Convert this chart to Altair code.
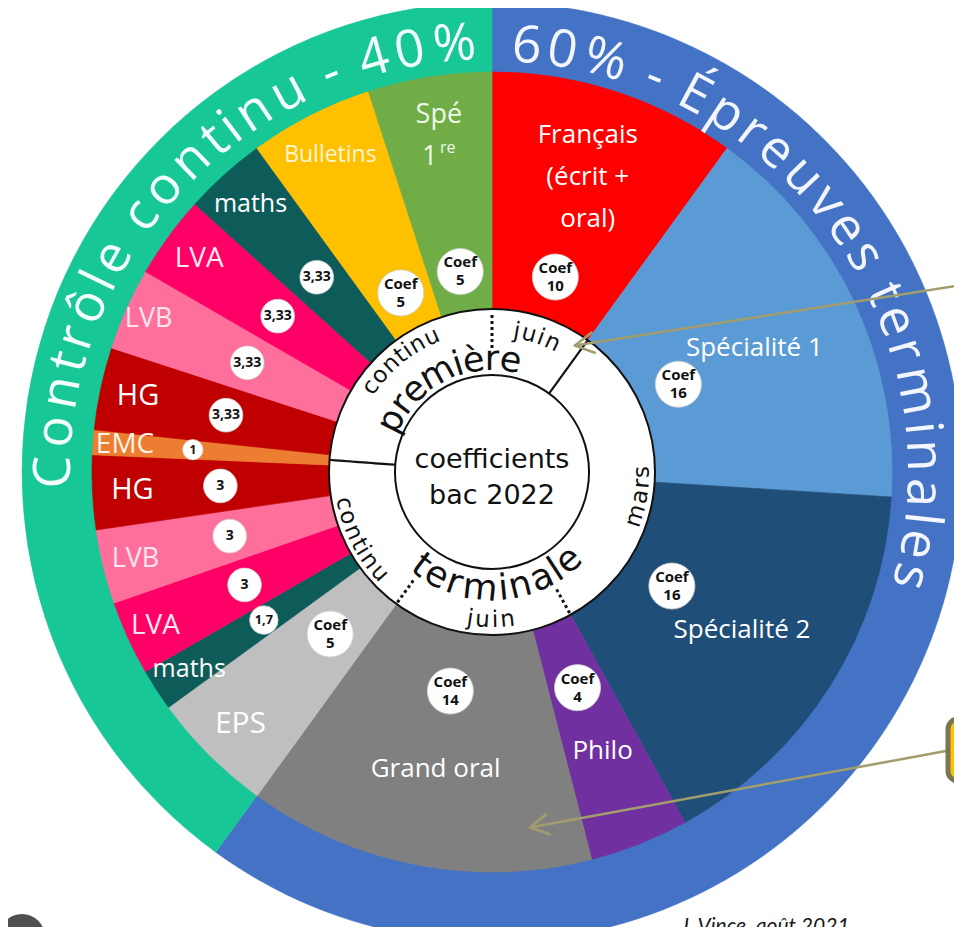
import numpy as np
import pandas as pd
import altair as alt

# ---------------- data ----------------
subjects = ["Français", "Spécialité 1", "Spécialité 2", "Philo", "Grand oral", "EPS",
            "maths", "LVA", "LVB", "HG", "EMC", "HG", "LVB", "LVA", "maths", "Bulletins", "Spé 1re"]
labels = ["Français\n(écrit +\noral)", "Spécialité 1", "Spécialité 2", "Philo", "Grand oral", "EPS",
          "maths", "LVA", "LVB", "HG", "EMC", "HG", "LVB", "LVA", "maths", "Bulletins", "Spé\n1^re"]
coefs = [10, 16, 16, 4, 14, 5, 1.7, 3, 3, 3, 1, 3.33, 3.33, 3.33, 3.33, 5, 5]
coef_labels = ["Coef\n10", "Coef\n16", "Coef\n16", "Coef\n4", "Coef\n14", "Coef\n5",
               "1,7", "3", "3", "3", "1", "3,33", "3,33", "3,33", "3,33", "Coef\n5", "Coef\n5"]
groups = ["terminales"] * 5 + ["continu"] * 12
group_names = ["60% - Épreuves terminales", "Contrôle continu - 40%"]
group_shares = [60, 40]
ring_words = ["continu", "première", "juin", "mars", "terminale", "juin", "continu"]
center_title = "coefficients\nbac 2022"
author = "J. Vince, août 2021"

# ---------------- styles ----------------
slice_colors = ["#FF0000", "#5B9BD5", "#1F4E79", "#7030A0", "#808080", "#BFBFBF",
                "#0E5C5A", "#FF0066", "#FF6F9C", "#C00000", "#ED7D31", "#C00000",
                "#FF6F9C", "#FF0066", "#0E5C5A", "#FFC000", "#70AD47"]
label_sizes = [26, 26, 26, 26, 26, 30, 25, 28, 27, 29, 28, 29, 27, 28, 25, 23, 27]
label_fills = ["#FFFFFF", "#FFFFFF", "#FFFFFF", "#FFFFFF", "#FFFFFF", "#FFFFFF",
               "#FFFFFF", "#FFE6EF", "#FFE6EF", "#FFFFFF", "#FFF2E6", "#FFFFFF",
               "#FFE6EF", "#FFE6EF", "#FFFFFF", "#FFF6D8", "#EEF8E8"]
group_colors = ["#4472C4", "#17C796"]
OLIVE = "#A29D6C"

# ---------------- layout ----------------
W, H = 946, 919
CX, CY = 484, 464
R_OUT, R_SLICE, R_WHITE, R_INNER = 470, 400, 163, 97
# radial distance of each slice's name and of its coefficient badge
label_radii = [310, 290, 296, 300, 302, 356, 361, 370, 367, 360, 368, 362, 376, 362, 361, 356, 340]
coef_radii = [205, 206, 213, 232, 223, 229, 272, 272, 270, 272, 300, 272, 268, 265, 262, 201, 203]

coef_arr = np.array(coefs, dtype=float)
span = coef_arr / coef_arr.sum() * 360.0
a_end = np.cumsum(span)
a_start = a_end - span
a_mid = (a_start + a_end) / 2
big = coef_arr >= 4

slices = pd.DataFrame({
    "subject": subjects, "coef": coefs, "color": slice_colors,
    "t0": np.deg2rad(a_start), "t1": np.deg2rad(a_end), "tm": np.deg2rad(a_mid),
    "r0": 0.0, "r1": float(R_SLICE),
})
coef_d = np.where(big, 52, np.minimum(38, 10 + 13 * coef_arr))
coef_fs = np.where(big, 15, np.clip(11 + coef_arr, 12, 14))

circles = pd.DataFrame({"subject": subjects, "tm": np.deg2rad(a_mid), "r": coef_radii,
                        "area": np.pi * (coef_d / 2) ** 2})

def line_rows(texts, mids, radii, sizes, fills, lh):
    rows = []
    for txt, t, rr, s, f in zip(texts, mids, radii, sizes, fills):
        lines = txt.split("\n")
        n = len(lines)
        for i, ln in enumerate(lines):
            oy = (i - (n - 1) / 2) * lh
            if "^" in ln:
                base, sup = ln.split("^")
                rows.append(dict(txt=base, tm=t, r=rr, ox=-9.0, oy=oy, size=s, fill=f))
                rows.append(dict(txt=sup, tm=t, r=rr, ox=9.0, oy=oy - 9, size=s * 0.6, fill=f))
            else:
                rows.append(dict(txt=ln, tm=t, r=rr, ox=0.0, oy=oy, size=s, fill=f))
    return pd.DataFrame(rows)

label_lines = line_rows(labels, np.deg2rad(a_mid), label_radii, label_sizes, label_fills, 42)
coef_lines = line_rows(coef_labels, np.deg2rad(a_mid), coef_radii, coef_fs, ["#111111"] * len(coefs), 18)

g_span = np.array(group_shares, dtype=float) / sum(group_shares) * 360.0
g_end = np.cumsum(g_span)
g_start = g_end - g_span
ring = pd.DataFrame({"t0": np.deg2rad(g_start), "t1": np.deg2rad(g_end),
                     "r0": float(R_SLICE - 2), "r1": float(R_OUT), "color": group_colors})

disk_white = pd.DataFrame({"t0": [0.0], "t1": [2 * np.pi], "r0": [0.0], "r1": [float(R_WHITE)]})
disk_inner = pd.DataFrame({"t0": [0.0], "t1": [2 * np.pi], "r0": [0.0], "r1": [float(R_INNER)]})

# dividers of the inner ring, at slice boundaries
def divider(a_deg, r_a, r_b, dotted):
    rows = []
    if dotted:
        for r in np.arange(r_a, r_b, 6.0):
            hw = 1.5 / (r + 1.5)
            rows.append({"t0": np.deg2rad(a_deg) - hw, "t1": np.deg2rad(a_deg) + hw, "r0": r, "r1": r + 3.0})
    else:
        for r in np.arange(r_a, r_b, 4.0):
            hw = 1.1 / (r + 2)
            rows.append({"t0": np.deg2rad(a_deg) - hw, "t1": np.deg2rad(a_deg) + hw, "r0": r, "r1": min(r + 4.3, r_b)})
    return rows

div_rows = []
div_rows += divider(a_start[0], 124, 158, True)              # première continu | juin
div_rows += divider(a_end[0], R_INNER, R_WHITE, False)        # première | terminale (mars)
div_rows += divider(a_end[2], 134, 162, True)                 # mars | juin
div_rows += divider(a_end[4], 134, 162, True)                 # juin | continu
div_rows += divider(a_mid[10], R_INNER, R_WHITE, False)       # terminale | première
dividers = pd.DataFrame(div_rows)

# curved text: character placement along an arc
CW = {" ": .26, "-": .32, "%": .84, "C": .63, "É": .55, "t": .36, "r": .41, "l": .26, "i": .26,
      "j": .26, "m": .93, "s": .48, "c": .48, "e": .56, "è": .56, "é": .56, "ô": .6, "o": .6,
      "n": .61, "u": .61, "p": .61, "a": .56, "v": .5, "0": .57, "4": .57, "6": .57}

def curve(text, a0, a1, r, size, cw, fill="#FFFFFF", squash=0.0):
    w = np.array([CW.get(c, 0.56) for c in text])
    centers = np.cumsum(w) - w / 2
    f = (centers - centers[0]) / (centers[-1] - centers[0])
    ang = a0 + f * (a1 - a0)
    rows = []
    for c, a in zip(text, ang):
        if c == " ":
            continue
        rot = a if cw else a + 180
        rr = r - squash * np.cos(np.deg2rad(a)) ** 2
        rows.append({"ch": c, "t": np.deg2rad(a % 360), "r": rr, "rot": rot % 360, "size": size, "fill": fill})
    return rows

outer_rows = []
outer_rows += curve(group_names[0], 4.7, 104, 432, 52, True, "#F3F6FF", squash=5)
outer_rows += curve(group_names[1], 270, 355, 438, 52, True, "#F2FFFA", squash=9)
outer_chars = pd.DataFrame(outer_rows)

ring_layout = [  # first char angle, last char angle, radius, size, clockwise
    (305, 336, 148, 23, True),
    (297, 369.5, 113, 35, True),
    (10, 25, 143, 23, True),
    (107, 90, 150, 23, False),
    (217, 139, 117, 36, False),
    (188.5, 174, 148, 23, False),
    (258, 228, 151, 23, False),
]
inner_rows = []
for word, (a0, a1, r, s, cw) in zip(ring_words, ring_layout):
    inner_rows += curve(word, a0, a1, r, s, cw, "#111111")
inner_chars = pd.DataFrame(inner_rows)

# annotation arrows (screenshot overlay)
def arrow(x_tail, y_tail, x_tip, y_tip, head=21, spread=29):
    d = np.array([x_tail - x_tip, y_tail - y_tip], dtype=float)
    d /= np.linalg.norm(d)
    rows = [{"x": x_tail, "y": y_tail, "x2": x_tip, "y2": y_tip}]
    for s in (spread, -spread):
        th = np.deg2rad(s)
        v = np.array([d[0] * np.cos(th) - d[1] * np.sin(th), d[0] * np.sin(th) + d[1] * np.cos(th)])
        rows.append({"x": x_tip, "y": y_tip, "x2": x_tip + head * v[0], "y2": y_tip + head * v[1]})
    return rows

arrows = pd.DataFrame(arrow(948, 278, 567, 337.5) + arrow(938, 743, 522, 819.5))
box = pd.DataFrame({"x": [940], "x2": [975], "y": [711], "y2": [773]})
icon = pd.DataFrame({"t0": [0.0], "t1": [2 * np.pi], "r0": [0.0], "r1": [23.0]})

# ---------------- chart ----------------
def arcs(df, cx=CX, cy=CY, colored=False, **mk):
    enc = dict(theta=alt.Theta("t0:Q", scale=None, stack=False), theta2=alt.Theta2("t1"),
               radius=alt.Radius("r1:Q", scale=None), radius2=alt.Radius2("r0"))
    if colored:
        enc["color"] = alt.Color("color:N", scale=None, legend=None)
        enc["stroke"] = alt.Stroke("color:N", scale=None, legend=None)
    return alt.Chart(df).mark_arc(x=cx, y=cy, **mk).encode(**enc)

def polar_text(df, text_field, **mk):
    return alt.Chart(df).mark_text(x=CX, y=CY, align="center", baseline="middle", **mk).encode(
        theta=alt.Theta("t:Q", scale=None, stack=False),
        radius=alt.Radius("r:Q", scale=None),
        text=alt.Text(text_field + ":N"),
        angle=alt.Angle("rot:Q", scale=None),
        size=alt.Size("size:Q", scale=None, legend=None),
        color=alt.Color("fill:N", scale=None, legend=None),
    )

def xy_text(df, **mk):
    return alt.Chart(df).transform_calculate(
        px=f"{CX} + datum.r * sin(datum.tm) + datum.ox",
        py=f"{CY} - datum.r * cos(datum.tm) + datum.oy",
    ).mark_text(align="center", baseline="middle", **mk).encode(
        x=alt.X("px:Q", scale=None, axis=None),
        y=alt.Y("py:Q", scale=None, axis=None),
        text="txt:N",
        size=alt.Size("size:Q", scale=None, legend=None),
        color=alt.Color("fill:N", scale=None, legend=None),
    )

ring_layer = arcs(ring, colored=True, strokeWidth=0.5)
slice_layer = arcs(slices, colored=True, strokeWidth=0.7)
white_layer = arcs(disk_white, fill="white", stroke="#111111", strokeWidth=2)
inner_layer = arcs(disk_inner, fill="white", stroke="#111111", strokeWidth=2)
div_layer = arcs(dividers, fill="#111111")

outer_text = polar_text(outer_chars, "ch", font="Open Sans")
inner_text = polar_text(inner_chars, "ch", font="DejaVu Sans")

center_lines = center_title.split("\n")
center_df = pd.DataFrame({"txt": center_lines, "tm": 0.0, "r": 0.0, "ox": 0.0,
                          "oy": [6 + (i - (len(center_lines) - 1) / 2) * 36 for i in range(len(center_lines))],
                          "size": 27, "fill": "#111111"})
center_text = xy_text(center_df, font="DejaVu Sans")

label_layer = xy_text(label_lines, font="Open Sans")

circle_layer = alt.Chart(circles).transform_calculate(
    px=f"{CX} + datum.r * sin(datum.tm)",
    py=f"{CY} - datum.r * cos(datum.tm)",
).mark_circle(color="white", opacity=1, stroke="#cfcfcf", strokeWidth=0.8).encode(
    x=alt.X("px:Q", scale=None, axis=None),
    y=alt.Y("py:Q", scale=None, axis=None),
    size=alt.Size("area:Q", scale=None, legend=None),
)

coef_text = xy_text(coef_lines, font="Open Sans", fontWeight="bold")

arrow_layer = alt.Chart(arrows).mark_rule(color=OLIVE, strokeWidth=2.5, strokeCap="round").encode(
    x=alt.X("x:Q", scale=None, axis=None), x2="x2",
    y=alt.Y("y:Q", scale=None, axis=None), y2="y2")

box_layer = alt.Chart(box).mark_rect(fill="#FFC000", stroke="#7A7552", strokeWidth=5, cornerRadius=10).encode(
    x=alt.X("x:Q", scale=None, axis=None), x2="x2",
    y=alt.Y("y:Q", scale=None, axis=None), y2="y2")

icon_layer = arcs(icon, cx=14, cy=929, fill="#505050")

author_layer = alt.Chart(pd.DataFrame({"t": [author]})).mark_text(
    align="center", baseline="top", font="Lato", fontStyle="italic", fontSize=21, color="#1a1a1a"
).encode(text="t:N", x=alt.value(757), y=alt.value(908))

chart = alt.layer(
    ring_layer, slice_layer, white_layer, inner_layer, div_layer,
    outer_text, inner_text, center_text, label_layer, circle_layer, coef_text,
    arrow_layer, box_layer, icon_layer, author_layer,
).properties(
    width=W, height=H, padding=0, background="white",
    autosize=alt.AutoSizeParams(type="none"),
).configure_view(strokeWidth=0)

chart.save("out.html", embed_options={"renderer": "svg", "actions": False})
